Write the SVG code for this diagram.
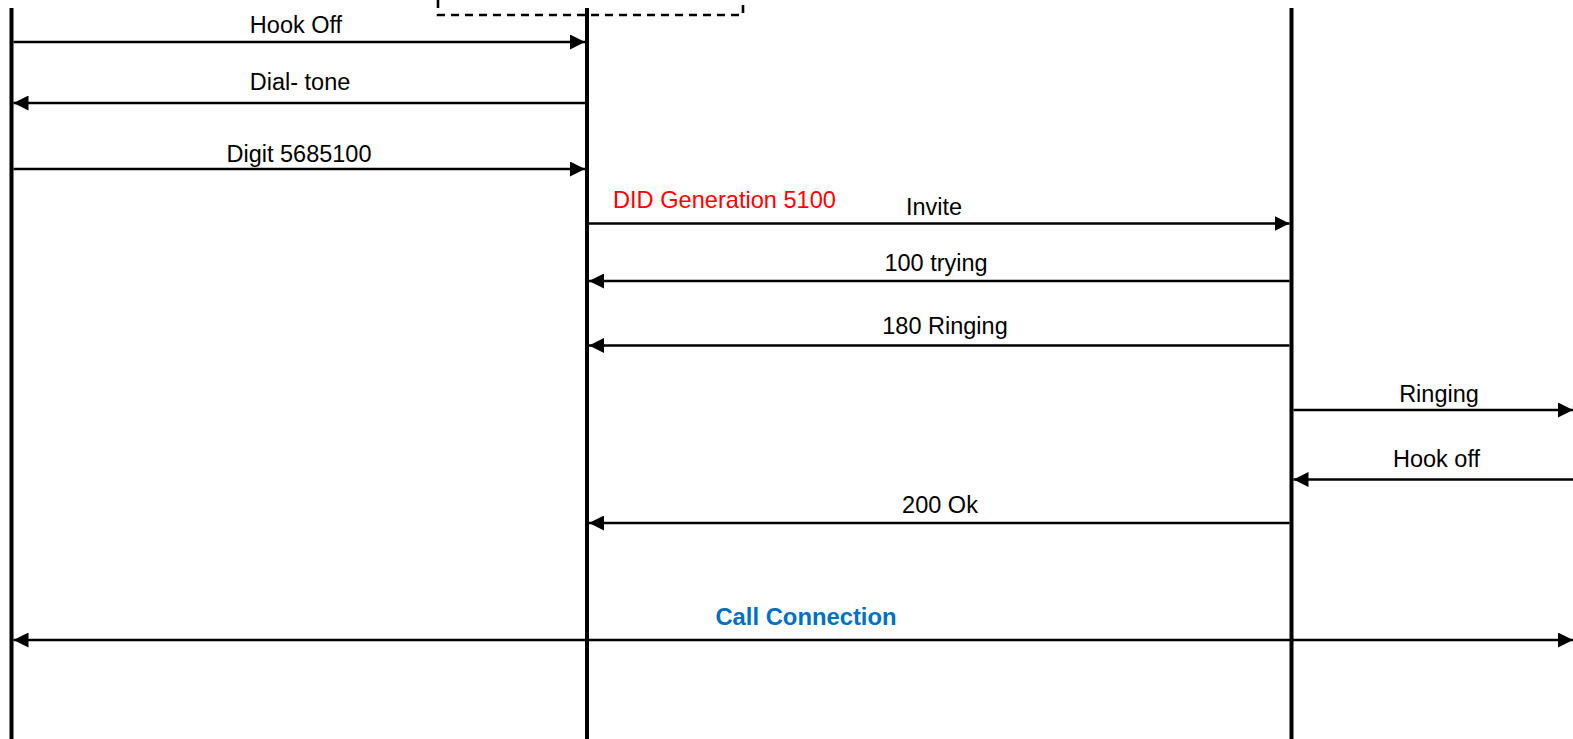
<svg xmlns="http://www.w3.org/2000/svg" width="1573" height="739" viewBox="0 0 1573 739">
<style>
.life{stroke:#000;stroke-width:4;fill:none}
.msg{stroke:#000;stroke-width:2.6;fill:none}
.lbl{font-family:"Liberation Sans",Arial,sans-serif;font-size:23.5px;fill:#000;text-anchor:middle}
.red{font-family:"Liberation Sans",Arial,sans-serif;font-size:23.6px;fill:#FF0000}
.blue{font-family:"Liberation Sans",Arial,sans-serif;font-size:23.8px;font-weight:bold;fill:#0070C0;text-anchor:middle}
.dash{stroke:#000;stroke-width:2.6;fill:none;stroke-dasharray:8 6}
</style>
<defs>
<marker id="ah" markerUnits="userSpaceOnUse" markerWidth="15" markerHeight="15" refX="15" refY="7.5" orient="auto-start-reverse" viewBox="0 0 15 15">
<path d="M0,0 L15,7.5 L0,15 z" fill="#000"/>
</marker>
</defs>
<rect width="1573" height="739" fill="#fff"/>
<g id="frame">
<path class="dash" d="M438,0 L438,15 L743,15 L743,0"/>
</g>
<g id="lifeline-left"><line class="life" x1="11.5" y1="8" x2="11.5" y2="739"/></g>
<g id="lifeline-middle"><line class="life" x1="587" y1="8" x2="587" y2="739"/></g>
<g id="lifeline-right"><line class="life" x1="1291.5" y1="8" x2="1291.5" y2="739"/></g>
<g id="connectors">
<line class="msg" x1="13.5" y1="42" x2="585" y2="42" marker-end="url(#ah)"/>
<line class="msg" x1="585" y1="103" x2="13.5" y2="103" marker-end="url(#ah)"/>
<line class="msg" x1="13.5" y1="169" x2="585" y2="169" marker-end="url(#ah)"/>
<line class="msg" x1="589" y1="223.5" x2="1289.5" y2="223.5" marker-end="url(#ah)"/>
<line class="msg" x1="1289.5" y1="281" x2="589" y2="281" marker-end="url(#ah)"/>
<line class="msg" x1="1289.5" y1="345.5" x2="589" y2="345.5" marker-end="url(#ah)"/>
<line class="msg" x1="1293.5" y1="410" x2="1573" y2="410" marker-end="url(#ah)"/>
<line class="msg" x1="1573" y1="479.5" x2="1293.5" y2="479.5" marker-end="url(#ah)"/>
<line class="msg" x1="1289.5" y1="523" x2="589" y2="523" marker-end="url(#ah)"/>
<line class="msg" x1="13.5" y1="640" x2="1573" y2="640" marker-start="url(#ah)" marker-end="url(#ah)"/>
</g>
<g id="labels">
<text class="lbl" x="296" y="33.3">Hook Off</text>
<text class="lbl" x="300" y="90">Dial- tone</text>
<text class="lbl" x="299" y="161.7">Digit 5685100</text>
<text class="red" x="613" y="208">DID Generation 5100</text>
<text class="lbl" x="934" y="215">Invite</text>
<text class="lbl" x="936" y="270.7">100 trying</text>
<text class="lbl" x="945" y="333.5">180 Ringing</text>
<text class="lbl" x="1439" y="401.7">Ringing</text>
<text class="lbl" x="1436.5" y="466.7">Hook off</text>
<text class="lbl" x="940" y="513">200 Ok</text>
<text class="blue" x="806" y="625">Call Connection</text>
</g>
</svg>
